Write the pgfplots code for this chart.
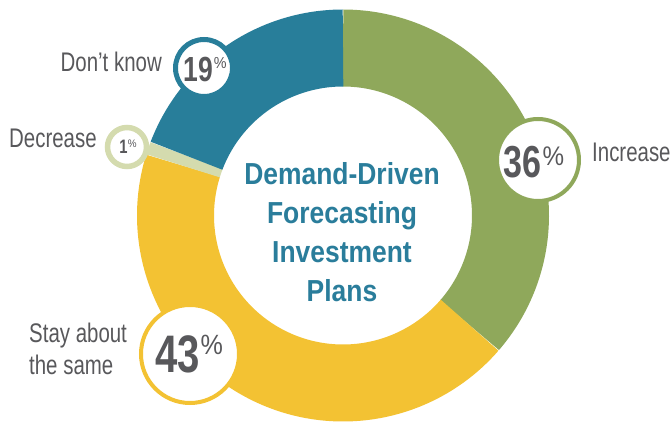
\documentclass[border=0pt]{standalone}
\usepackage{pgfplots}
\pgfplotsset{compat=1.18}
\usepackage{pgfplotstable}
\usepackage{fontspec}
\setmainfont{Liberation Sans}
\newfontfamily\lblfont{Liberation Sans}[FakeStretch=0.76]
\newfontfamily\pctfont{Liberation Sans}[FakeStretch=0.9]
\newfontfamily\numfont{Liberation Sans}[FakeStretch=0.76]
\newfontfamily\ttlfont{Liberation Sans}[FakeStretch=0.87]
\definecolor{cgreen}{HTML}{8FA85B}
\definecolor{cyellow}{HTML}{F3C233}
\definecolor{cblue}{HTML}{287E9A}
\definecolor{clight}{HTML}{D4DBAE}
\definecolor{ctext}{HTML}{58585B}
\definecolor{ctitle}{HTML}{2A7D9B}

\pgfplotstableread{
label value
Increase 36
Stay 43
Decrease 1
Dontknow 19
}\datatable
\pgfplotstablegetelem{0}{value}\of\datatable \let\vA\pgfplotsretval
\pgfplotstablegetelem{1}{value}\of\datatable \let\vB\pgfplotsretval
\pgfplotstablegetelem{2}{value}\of\datatable \let\vC\pgfplotsretval
\pgfplotstablegetelem{3}{value}\of\datatable \let\vD\pgfplotsretval
\pgfmathsetmacro\tot{\vA+\vB+\vC+\vD}
\pgfmathsetmacro\aA{90}
\pgfmathsetmacro\aB{\aA-360*\vA/\tot}
\pgfmathsetmacro\aC{\aB-360*\vB/\tot}
\pgfmathsetmacro\aD{\aC-360*\vC/\tot}
\pgfmathsetmacro\aE{\aD-360*\vD/\tot}

\begin{document}
\begin{tikzpicture}
\begin{axis}[width=672bp,height=422bp,scale only axis,
  xmin=0,xmax=672,ymin=0,ymax=422,hide axis,clip=false]
\path (axis cs:0,0) rectangle (axis cs:672,422);
% ring segments (centre 343,206.5; mid radius 167.5; thickness 77)
\addplot[cgreen, line width=77bp, domain=\aB:\aA, samples=120, no markers]
  ({343+167.5*cos(x)},{206.5+167.5*sin(x)});
\addplot[cyellow, line width=77bp, domain=\aC:\aB, samples=140, no markers]
  ({343+167.5*cos(x)},{206.5+167.5*sin(x)});
\addplot[clight, line width=77bp, domain=\aD:\aC, samples=10, no markers]
  ({343+167.5*cos(x)},{206.5+167.5*sin(x)});
\addplot[cblue, line width=77bp, domain=\aE:\aD, samples=80, no markers]
  ({343+167.5*cos(x)},{206.5+167.5*sin(x)});
% badges
\addplot[only marks, mark=*, mark size=41bp, mark options={fill=white, draw=cgreen, line width=4bp}] coordinates {(538,262)};
\addplot[only marks, mark=*, mark size=49bp, mark options={fill=white, draw=cyellow, line width=4bp}] coordinates {(190,68)};
\addplot[only marks, mark=*, mark size=28.5bp, mark options={fill=white, draw=cblue, line width=5bp}] coordinates {(204,354)};
\addplot[only marks, mark=*, mark size=19.5bp, mark options={fill=white, draw=clight, line width=5.5bp}] coordinates {(127,275)};
\coordinate (n36) at (axis cs:534,244);
\coordinate (n43) at (axis cs:189,49);
\coordinate (n19) at (axis cs:205,340);
\coordinate (n1) at (axis cs:128,268);
% category labels
\node[ctext, anchor=base east, inner sep=0pt] at (axis cs:162,350)
  {\lblfont\fontsize{27}{27}\selectfont Don’t know};
\node[ctext, anchor=base west, inner sep=0pt] at (axis cs:9,274)
  {\lblfont\fontsize{27}{27}\selectfont Decrease};
\node[ctext, anchor=base west, inner sep=0pt] at (axis cs:592,260)
  {\lblfont\fontsize{27}{27}\selectfont Increase};
\node[ctext, anchor=base west, inner sep=0pt] at (axis cs:29,79)
  {\lblfont\fontsize{27}{27}\selectfont Stay about};
\node[ctext, anchor=base west, inner sep=0pt] at (axis cs:29,47)
  {\lblfont\fontsize{27}{27}\selectfont the same};
% title
\node[ctitle, anchor=base, inner sep=0pt] at (axis cs:342,237)
  {\ttlfont\bfseries\fontsize{30.5}{30.5}\selectfont Demand-Driven};
\node[ctitle, anchor=base, inner sep=0pt] at (axis cs:342,198)
  {\ttlfont\bfseries\fontsize{30.5}{30.5}\selectfont Forecasting};
\node[ctitle, anchor=base, inner sep=0pt] at (axis cs:342,159)
  {\ttlfont\bfseries\fontsize{30.5}{30.5}\selectfont Investment};
\node[ctitle, anchor=base, inner sep=0pt] at (axis cs:342,120)
  {\ttlfont\bfseries\fontsize{30.5}{30.5}\selectfont Plans};
\end{axis}
% numbers inside badges (drawn on top)
\node[ctext, anchor=base, inner sep=0pt] at (n36)
  {\numfont\bfseries\fontsize{45}{45}\selectfont 36\kern1bp\raisebox{12bp}{\pctfont\mdseries\fontsize{27}{27}\selectfont\%}};
\node[ctext, anchor=base, inner sep=0pt] at (n43)
  {\numfont\bfseries\fontsize{53}{53}\selectfont 43\kern1bp\raisebox{18bp}{\pctfont\mdseries\fontsize{28}{28}\selectfont\%}};
\node[ctext, anchor=base, inner sep=0pt] at (n19)
  {\numfont\bfseries\fontsize{35}{35}\selectfont 19\kern1bp\raisebox{13bp}{\pctfont\mdseries\fontsize{16}{16}\selectfont\%}};
\node[ctext, anchor=base, inner sep=0pt] at (n1)
  {\numfont\bfseries\fontsize{19.5}{19.5}\selectfont 1\kern0.5bp\raisebox{6bp}{\pctfont\mdseries\fontsize{11}{11}\selectfont\%}};
\end{tikzpicture}
\end{document}
